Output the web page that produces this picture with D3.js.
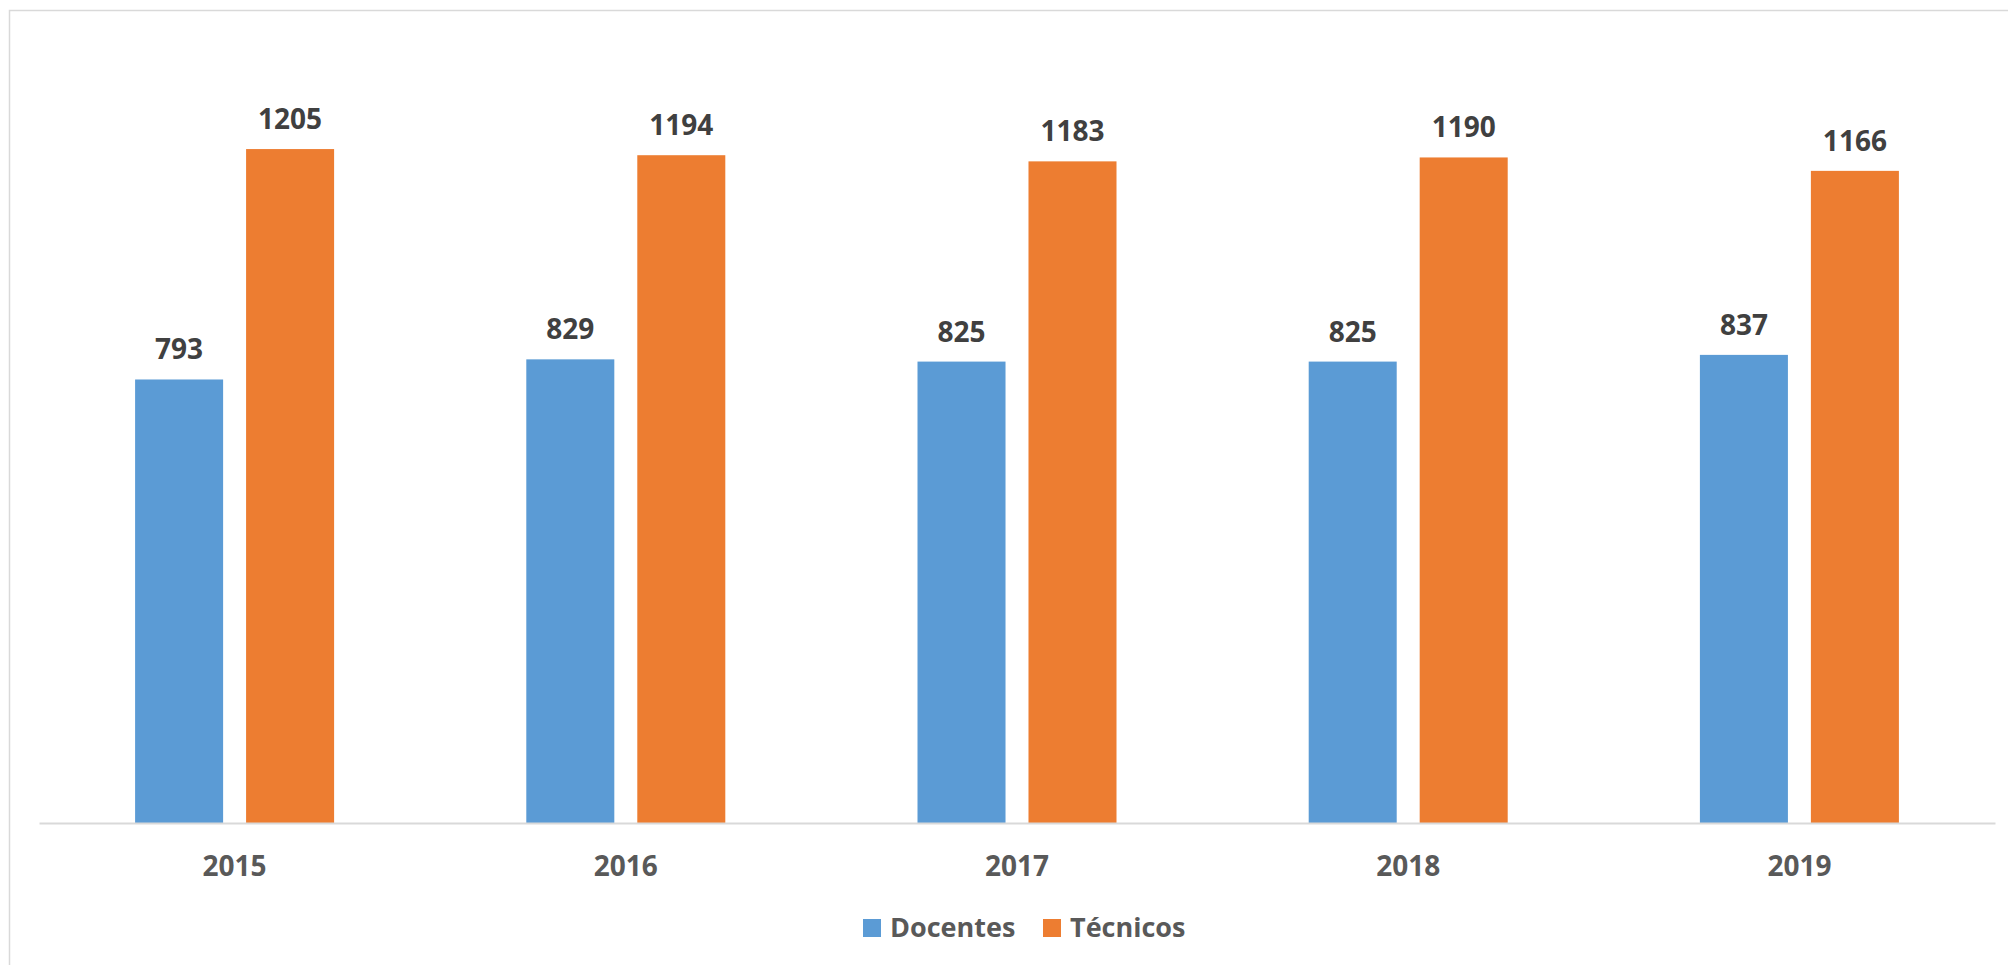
<!DOCTYPE html>
<html>
<head>
<meta charset="utf-8">
<script src="https://cdn.jsdelivr.net/npm/d3@7"></script>
<style>
  html, body { margin: 0; padding: 0; background: #fff; }
  svg { display: block; }
</style>
</head>
<body>
<div id="chart"></div>
<script>
const width = 2008;
const height = 965;

// Data
const years = ["2015", "2016", "2017", "2018", "2019"];
const seriesNames = ["Docentes", "Técnicos"];
const docentes = [793, 829, 825, 825, 837];
const tecnicos = [1205, 1194, 1183, 1190, 1166];
const seriesColors = ["#5B9BD5", "#ED7D31"];

const rows = years.map((y, i) => ({ year: y, values: [docentes[i], tecnicos[i]] }));

const plot = { left: 39, right: 1995, top: 40, bottom: 823 };
const font = "'Open Sans', 'Noto Sans', sans-serif";

const svg = d3.select("#chart").append("svg")
    .attr("width", width)
    .attr("height", height);

// outer chart frame (cut off on the right and bottom)
svg.append("rect")
    .attr("x", 9.5)
    .attr("y", 10.5)
    .attr("width", width + 20)
    .attr("height", height + 20)
    .attr("fill", "#fff")
    .attr("stroke", "#D9D9D9")
    .attr("stroke-width", 1.5);

const x0 = d3.scaleBand()
    .domain(years)
    .range([plot.left, plot.right])
    .paddingInner(0.4913)
    .paddingOuter(0.4913 / 2);

const x1 = d3.scaleBand()
    .domain(d3.range(seriesNames.length))
    .range([0, x0.bandwidth()])
    .paddingInner(0.207);

const y = d3.scaleLinear()
    .domain([0, 1400])
    .range([plot.bottom, plot.top]);

const groups = svg.append("g")
    .selectAll("g")
    .data(rows)
    .join("g")
    .attr("transform", d => `translate(${x0(d.year)},0)`);

groups.selectAll("rect")
    .data(d => d.values.map((v, i) => ({ v, i })))
    .join("rect")
    .attr("x", d => x1(d.i))
    .attr("y", d => y(d.v))
    .attr("width", x1.bandwidth())
    .attr("height", d => y(0) - y(d.v))
    .attr("fill", d => seriesColors[d.i]);

// value labels
groups.selectAll("text")
    .data(d => d.values.map((v, i) => ({ v, i })))
    .join("text")
    .attr("x", d => x1(d.i) + x1.bandwidth() / 2)
    .attr("y", d => y(d.v) - 20)
    .attr("text-anchor", "middle")
    .attr("font-family", font)
    .attr("font-weight", "bold")
    .attr("font-size", 28)
    .attr("fill", "#404040")
    .text(d => d.v);

// x axis
const xAxis = svg.append("g")
    .attr("transform", `translate(0,${plot.bottom})`)
    .call(d3.axisBottom(x0).tickSize(0).tickPadding(53));

xAxis.select(".domain")
    .attr("stroke", "#D9D9D9")
    .attr("stroke-width", 2);

xAxis.selectAll(".tick text")
    .attr("font-family", font)
    .attr("font-weight", "bold")
    .attr("font-size", 28)
    .attr("fill", "#595959")
    .attr("dy", "0");

// legend
const legendX = [863, 1043];
const legend = svg.append("g")
    .selectAll("g")
    .data(seriesNames)
    .join("g")
    .attr("transform", (d, i) => `translate(${legendX[i]},919)`);

legend.append("rect")
    .attr("width", 18)
    .attr("height", 18)
    .attr("fill", (d, i) => seriesColors[i]);

legend.append("text")
    .attr("x", 27)
    .attr("y", 18)
    .attr("font-family", font)
    .attr("font-weight", "bold")
    .attr("font-size", 27)
    .attr("fill", "#595959")
    .text(d => d);
</script>
</body>
</html>
